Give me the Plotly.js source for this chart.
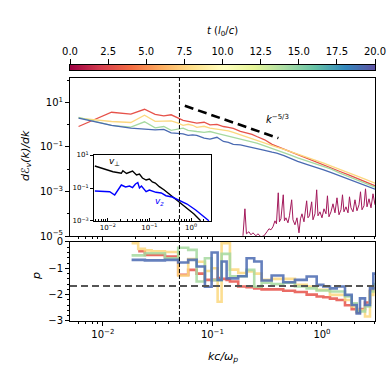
<!DOCTYPE html>
<html>
<head>
<meta charset="utf-8">
<script src="https://cdn.plot.ly/plotly-3.0.1.min.js"></script>
<style>
body { margin: 0; background: #fff; }
#plot { width: 391px; height: 369px; }
</style>
</head>
<body>
<div id="plot"></div>
<script>
// spectra at t ~ 3, 8, 14, 19 (l0/c)
var specK = [0.006,0.012,0.018,0.024,0.030,0.036,0.042,0.048,0.054,0.060,0.066,0.072,0.084,0.095,0.11,0.126,0.14,0.155,0.18,0.206,0.23,0.254,0.3,0.35,0.386,0.45,0.51,0.6,0.724,0.85,1.036,1.2,1.459,1.75,2.07,2.5,3.05];
var specRed = [0.834,3.63,3.01,4.95,2.95,2.52,2.80,2.12,1.585,1.43,1.29,1.186,1.29,0.995,1.048,0.834,0.768,0.692,0.508,0.421,0.372,0.296,0.2107,0.1322,0.1075,0.0788,0.0628,0.0455,0.0317,0.0228,0.01585,0.01187,0.00792,0.00563,0.00400,0.00273,0.00180];
var specYellow = [1.99,1.40,1.262,2.66,1.43,1.43,1.505,1.224,0.945,1.048,0.945,0.768,0.852,0.707,0.624,0.593,0.535,0.458,0.3534,0.2873,0.2460,0.2107,0.1545,0.1156,0.0990,0.0788,0.0641,0.0480,0.0352,0.0266,0.0189,0.01429,0.01016,0.00729,0.00508,0.00354,0.00238];
var specGreen = [2.12,0.945,0.784,1.357,0.729,0.834,0.563,0.624,0.707,0.563,0.508,0.497,0.458,0.497,0.413,0.3534,0.3187,0.2729,0.2219,0.1900,0.1661,0.1497,0.1132,0.0874,0.0748,0.0578,0.0446,0.0327,0.0240,0.01794,0.01329,0.01047,0.00671,0.00482,0.00336,0.00234,0.00158];
var specBlue = [1.99,0.945,0.707,0.624,0.593,0.624,0.4346,0.413,0.392,0.3357,0.3534,0.3357,0.2512,0.2265,0.2729,0.1767,0.1626,0.1322,0.1256,0.1075,0.0969,0.0892,0.0711,0.0590,0.0532,0.0411,0.0317,0.0228,0.0167,0.01249,0.00945,0.00729,0.00508,0.00380,0.00281,0.00194,0.00128];

// t = 0 spectrum (noisy, mostly below 1e-3)
var kT0 = [0.190,0.198,0.2044,0.2154,0.2247,0.2344,0.2496,0.2603,0.2773,0.2953,0.3146,0.3281,0.3421,0.3569,0.3722,0.3841,0.3989,0.4091,0.4222,0.4431,0.4544,0.4690,0.4892,0.5049,0.5288,0.5435,0.5668,0.5911,0.6166,0.6364,0.6568,0.6849,0.7249,0.7449,0.7688,0.8052,0.8276,0.8632,0.8947,0.9194,0.9588,1.0,1.043,1.088,1.122,1.158,1.208,1.260,1.314,1.371,1.430,1.491,1.539,1.588,1.657,1.728,1.783,1.840,1.919,2.001,2.087,2.177,2.247,2.319,2.418,2.496,2.576,2.687,2.802,2.923,3.048];
var eT0 = [1.02e-5,1.67e-4,1.26e-5,1.55e-5,1.13e-5,1.39e-5,1.02e-5,1.26e-5,9.2e-6,1.02e-5,1.55e-5,2.11e-5,1.90e-5,2.59e-5,4.82e-5,3.53e-5,8.74e-4,4.35e-5,5.93e-5,7.11e-4,4.82e-5,6.58e-5,3.92e-5,8.09e-5,4.24e-4,5.35e-5,3.18e-5,6.58e-5,1.39e-5,5.93e-5,9.95e-5,4.35e-5,3.82e-4,6.58e-5,8.09e-5,3.44e-4,5.35e-5,9.95e-5,1.19e-3,8.09e-5,1.22e-4,6.58e-5,1.67e-4,9.95e-5,6.41e-4,7.30e-5,1.22e-4,2.80e-4,1.10e-4,5.21e-4,8.97e-5,1.51e-4,7.11e-4,1.22e-4,2.05e-4,1.10e-4,5.78e-4,1.85e-4,1.22e-4,4.24e-4,1.36e-4,2.52e-4,9.70e-4,1.51e-4,2.28e-4,1.32e-3,2.05e-4,4.70e-4,1.85e-4,7.88e-4,2.52e-4];

// k^-5/3 guide
var slopeK = [0.056, 0.40];
var slopeE = [7.1, 0.25];
var slopeLabel = {k: 0.396, e: 1.85};

// inset: v_perp and v_z spectra
var inKPerp = [0.0049,0.00849,0.01337,0.0212,0.0231,0.0283,0.0334,0.0394,0.0490,0.0578,0.0681,0.0834,0.1,0.1179,0.139,0.173,0.2276,0.3587,0.518,0.748,1.179,1.702];
var inEPerp = [2.15,1.418,0.972,0.778,1.118,0.756,0.870,1.072,0.614,0.706,0.404,0.305,0.351,0.231,0.201,0.120,0.0756,0.0297,0.0152,0.00735,0.00266,0.00104];
var inKZ = [0.0049,0.00849,0.01116,0.01468,0.0173,0.0212,0.0268,0.0334,0.0394,0.0464,0.0527,0.0578,0.0645,0.0834,0.1,0.1444,0.193,0.2498,0.353,0.518,0.803,1.294,1.828,2.683];
var inEZ = [0.0658,0.0614,0.0597,0.0377,0.0756,0.152,0.115,0.132,0.107,0.175,0.215,0.1,0.132,0.0597,0.0756,0.0549,0.0498,0.0341,0.0285,0.0187,0.0107,0.00464,0.00231,0.00104];

// local slope p, binned in k (edges)
var binEdges = [0.01829,0.02101,0.02418,0.02784,0.03684,0.04872,0.06012,0.07175,0.0854,0.0983,0.1116,0.1213,0.1348,0.1445,0.1720,0.2052,0.2408,0.2813,0.3472,0.4431,0.5668,0.7249,0.8947,1.028,1.183,1.362,1.622,1.867,2.074,2.223,2.470,2.744,2.942,3.048];
var pRed = [null,-0.35,-0.49,-0.49,-0.55,-1.25,-1.06,-1.2,-1.44,-1.44,-1.37,-1.40,-1.44,-1.50,-1.69,-1.72,-1.76,-1.80,-1.8,-1.85,-1.9,-2.0,-2.07,-2.1,-2.15,-2.2,-2.4,-2.55,-2.67,-2.55,-2.3,-1.85,-1.75];
var pYellow = [-0.05,-0.26,-0.32,-0.35,-0.38,-1.27,-0.65,-0.75,-1.1,-1.0,-2.27,-0.05,-0.05,-1.05,-1.18,-1.12,-1.2,-1.44,-1.4,-1.4,-1.63,-1.69,-1.82,-1.82,-2.01,-2.01,-2.2,-2.45,-2.58,-2.58,-2.83,-2.01,-1.9];
var pGreen = [-0.51,-0.51,-0.43,-0.43,-0.62,-0.22,-0.3,-1.5,-0.62,-1.45,-1.45,-0.45,-0.45,-1.3,-1.3,-1.06,-1.7,-1.55,-1.6,-1.55,-1.69,-1.76,-1.84,-1.84,-1.88,-1.88,-2.07,-2.33,-2.64,-2.64,-2.45,-1.88,-1.6];
var pBlue = [-0.68,-0.68,-0.70,-0.70,-0.68,-0.78,-0.68,-0.93,-1.7,-0.40,-1.44,-0.74,-1.38,-1.38,-1.3,-0.62,-0.74,-1.46,-1.27,-1.53,-1.44,-1.31,-1.63,-1.69,-1.76,-1.69,-2.01,-2.39,-2.71,-2.14,-2.39,-1.76,-1.2];

// tick labels
var kTickVals = [0.01, 0.1, 1];
var kTickText = ['10<sup>\u22122</sup>', '10<sup>\u22121</sup>', '10<sup>0</sup>'];
var eTickVals = [1e-5, 1e-3, 1e-1, 10];
var eTickText = ['10<sup>\u22125</sup>', '10<sup>\u22123</sup>', '10<sup>\u22121</sup>', '10<sup>1</sup>'];
var inETickVals = [1e-3, 1e-1, 10];
var inETickText = ['10<sup>\u22123</sup>', '10<sup>\u22121</sup>', '10<sup>1</sup>'];

// colour bar
var cbTicks = [0, 2.5, 5, 7.5, 10, 12.5, 15, 17.5, 20];
var cbLabels = ['0.0','2.5','5.0','7.5','10.0','12.5','15.0','17.5','20.0'];

var spectral = [
  [0.0,'#9e0142'],[0.1,'#d53e4f'],[0.2,'#f46d43'],[0.3,'#fdae61'],[0.4,'#fee08b'],
  [0.5,'#ffffbf'],[0.6,'#e6f598'],[0.7,'#abdda4'],[0.8,'#66c2a5'],[0.9,'#3288bd'],[1.0,'#5e4fa2']
];

var cT0 = '#a3195b', cRed = '#e6524a', cYellow = '#fcd87f', cGreen = '#a6d9a0', cBlue = '#4a6ab2';

function spec(y, color) {
  return {x: specK, y: y, type: 'scatter', mode: 'lines', xaxis: 'x', yaxis: 'y',
    line: {color: color, width: 1.3}, hoverinfo: 'skip'};
}
function step(p, color) {
  return {x: binEdges, y: p.concat([p[p.length - 1]]), type: 'scatter', mode: 'lines',
    xaxis: 'x2', yaxis: 'y2', line: {color: color, width: 2.6, shape: 'hv'}, opacity: 0.85,
    connectgaps: false, hoverinfo: 'skip'};
}

var data = [
  {x: kT0, y: eT0, type: 'scatter', mode: 'lines', xaxis: 'x', yaxis: 'y',
    line: {color: cT0, width: 1}, hoverinfo: 'skip'},
  spec(specRed, cRed), spec(specYellow, cYellow), spec(specGreen, cGreen), spec(specBlue, cBlue),
  {x: slopeK, y: slopeE, type: 'scatter', mode: 'lines', xaxis: 'x', yaxis: 'y',
    line: {color: '#000', width: 2.6, dash: '9px,5px'}},
  {x: inKPerp, y: inEPerp, type: 'scatter', mode: 'lines', xaxis: 'x3', yaxis: 'y3',
    line: {color: '#000', width: 1.4}},
  {x: inKZ, y: inEZ, type: 'scatter', mode: 'lines', xaxis: 'x3', yaxis: 'y3',
    line: {color: '#0000ff', width: 1.4}},
  step(pRed, cRed), step(pYellow, cYellow), step(pGreen, cGreen), step(pBlue, cBlue),
  {z: [cbTicks], x: cbTicks, y: [0], type: 'heatmap', xaxis: 'x4', yaxis: 'y4',
    colorscale: spectral, zmin: 0, zmax: 20, zsmooth: 'best', showscale: false, hoverinfo: 'skip'}
];

var ax = {showline: true, linecolor: '#000', linewidth: 1, mirror: true, showgrid: false,
  zeroline: false, ticks: 'outside', ticklen: 4, tickcolor: '#000', tickfont: {size: 10, color: '#000'}};
var logMinor = {tickmode: 'linear', tick0: 0, dtick: 'D1', ticks: 'outside', ticklen: 2, tickcolor: '#000'};

var layout = {
  width: 391, height: 369,
  margin: {l: 70, r: 16, t: 0, b: 0},
  paper_bgcolor: '#fff', plot_bgcolor: '#fff',
  font: {family: 'DejaVu Sans', size: 10, color: '#000'},
  showlegend: false,
  xaxis: Object.assign({}, ax, {domain: [0, 1], anchor: 'y', type: 'log', range: [-2.3, 0.484],
    tickvals: kTickVals, showticklabels: false, minor: logMinor}),
  yaxis: Object.assign({}, ax, {domain: [0.3604, 0.7886], anchor: 'x', type: 'log', range: [-5, 2.1],
    tickvals: eTickVals, ticktext: eTickText,
    minor: {tickmode: 'linear', tick0: 0, dtick: 1, ticks: 'outside', ticklen: 2, tickcolor: '#000'}}),
  xaxis2: Object.assign({}, ax, {domain: [0, 1], anchor: 'y2', type: 'log', range: [-2.3, 0.484],
    tickvals: kTickVals, ticktext: kTickText, minor: logMinor}),
  yaxis2: Object.assign({}, ax, {domain: [0.1301, 0.3442], anchor: 'x2', range: [-3, 0], dtick: 1,
    minor: {ticks: 'outside', ticklen: 2, dtick: 0.2, tickcolor: '#000'}}),
  xaxis3: Object.assign({}, ax, {domain: [0.0787, 0.4623], anchor: 'y3', type: 'log', range: [-2.33, 0.48],
    tickvals: kTickVals, ticktext: kTickText, ticks: 'inside', ticklen: 3, tickfont: {size: 7, color: '#000'},
    minor: {tickmode: 'linear', tick0: 0, dtick: 'D1', ticks: 'inside', ticklen: 2, tickcolor: '#000'}}),
  yaxis3: Object.assign({}, ax, {domain: [0.4011, 0.5799], anchor: 'x3', type: 'log', range: [-3, 1],
    tickvals: inETickVals, ticktext: inETickText, ticklen: 3, tickfont: {size: 7, color: '#000'}}),
  xaxis4: Object.assign({}, ax, {domain: [0, 1], anchor: 'y4', range: [0, 20], side: 'top',
    tickvals: cbTicks, ticktext: cbLabels, ticklen: 5, tickfont: {size: 10, color: '#000'}}),
  yaxis4: Object.assign({}, ax, {domain: [0.8103, 0.8238], anchor: 'x4', range: [-0.5, 0.5],
    ticks: '', showticklabels: false}),
  shapes: [
    {type: 'line', xref: 'x', yref: 'paper', x0: 0.05, x1: 0.05, y0: 0.1301, y1: 0.7886,
      line: {color: '#000', width: 1, dash: '4px,2px'}},
    {type: 'line', xref: 'x2 domain', yref: 'y2', x0: 0, x1: 1, y0: -5 / 3, y1: -5 / 3,
      line: {color: '#555', width: 2, dash: '7px,4px'}}
  ],
  annotations: [
    // axis titles
    {xref: 'paper', yref: 'paper', x: 0.5, y: 0.9133, yanchor: 'middle',
      text: '<i>t</i> (<i>l</i><sub>0</sub>/<i>c</i>)', showarrow: false, font: {size: 10}},
    {xref: 'paper', yref: 'paper', x: -0.174, y: 0.58, textangle: -90,
      text: '<i>d\u2130<sub>v</sub>(k)/dk</i>', showarrow: false, font: {size: 11}},
    {xref: 'paper', yref: 'paper', x: -0.138, y: 0.237, textangle: -90,
      text: '<i>p</i>', showarrow: false, font: {size: 11}},
    {xref: 'paper', yref: 'paper', x: 0.5, y: 0.0325, yanchor: 'middle',
      text: '<i>kc/\u03c9<sub>p</sub></i>', showarrow: false, font: {size: 11}},
    // in-plot labels
    {xref: 'x', yref: 'y', x: Math.log10(slopeLabel.k), y: Math.log10(slopeLabel.e),
      text: '<i>k</i><sup>\u22125/3</sup>', showarrow: false, font: {size: 10}},
    {xref: 'x3', yref: 'y3', x: Math.log10(0.0145), y: 0.6,
      text: '<i>v</i><sub>\u22a5</sub>', showarrow: false, font: {size: 9, color: '#000'}},
    {xref: 'x3', yref: 'y3', x: Math.log10(0.173), y: -1.83,
      text: '<i>v<sub>z</sub></i>', showarrow: false, font: {size: 9, color: '#0000ff'}}
  ]
};

Plotly.newPlot('plot', data, layout, {staticPlot: true});
</script>
</body>
</html>
